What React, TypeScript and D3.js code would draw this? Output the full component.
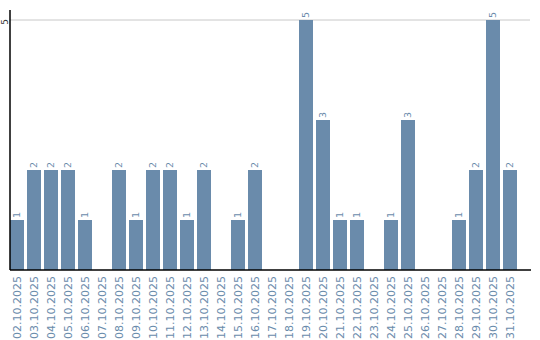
import React from "react";
import * as d3 from "d3";

const categories = [
  "02.10.2025","03.10.2025","04.10.2025","05.10.2025","06.10.2025","07.10.2025",
  "08.10.2025","09.10.2025","10.10.2025","11.10.2025","12.10.2025","13.10.2025",
  "14.10.2025","15.10.2025","16.10.2025","17.10.2025","18.10.2025","19.10.2025",
  "20.10.2025","21.10.2025","22.10.2025","23.10.2025","24.10.2025","25.10.2025",
  "26.10.2025","27.10.2025","28.10.2025","29.10.2025","30.10.2025","31.10.2025",
];
const values = [1,2,2,2,1,0,2,1,2,2,1,2,0,1,2,0,0,5,3,1,1,0,1,3,0,0,1,2,5,2];
const yTicks = [5];

const W = 540, H = 340;
const left = 10, right = 517, top = 20, bottom = 270;
const barColor = "#6a8bab";
const textColor = "#6a8bab";
const font = "DejaVu Sans, sans-serif";

export default function App() {
  const x = d3.scaleBand<string>().domain(categories).range([left, right]).paddingInner(3 / 17).paddingOuter(0).align(0);
  const y = d3.scaleLinear().domain([0, 5]).range([bottom, top]);
  return (
    <svg width={W} height={H} style={{ position: "absolute", left: 0, top: 0 }}>
      {yTicks.map((t) => (
        <g key={t}>
          <line x1={left} x2={530} y1={y(t)} y2={y(t)} stroke="#c8c8c8" strokeWidth={1} />
          <text transform={`translate(5,${y(t) + 2}) rotate(-90)`} textAnchor="middle" dy="0.35em" fontFamily={font} fontSize={9} fill="#333">{t}</text>
        </g>
      ))}
      {categories.map((c, i) => {
        const v = values[i];
        const bx = x(c)!;
        const cx = bx + x.bandwidth() / 2;
        return (
          <g key={c}>
            {v > 0 && (
              <>
                <rect x={bx} y={y(v)} width={x.bandwidth()} height={bottom - y(v)} fill={barColor} />
                <text transform={`translate(${cx},${y(v) - 2}) rotate(-90)`} textAnchor="start" dy="0.35em" fontFamily={font} fontSize={9.5} fill={textColor}>{v}</text>
              </>
            )}
            <text transform={`translate(${cx},${bottom + 6}) rotate(-90)`} textAnchor="end" dy="0.35em" fontFamily={font} fontSize={11} fill={textColor}>{c}</text>
          </g>
        );
      })}
      <line x1={left} x2={left} y1={10} y2={bottom} stroke="#000" strokeWidth={1.5} />
      <line x1={left} x2={531} y1={bottom} y2={bottom} stroke="#000" strokeWidth={1.5} />
    </svg>
  );
}
